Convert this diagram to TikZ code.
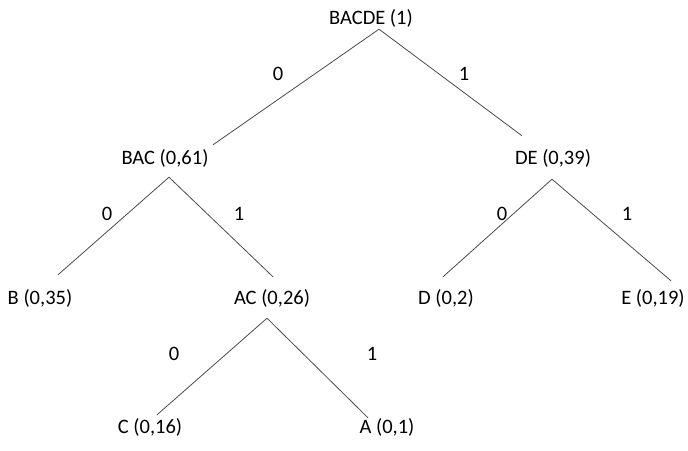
\documentclass[tikz,border=0pt]{standalone}
\usepackage{fontspec}
\setmainfont{Carlito}
\begin{document}
\begin{tikzpicture}[x = 1pt, y = -1pt,
    every node/.style = {font = \fontsize{20.5}{24}\selectfont, inner sep = 0pt, text height = 14pt, text depth = 4pt, anchor = base},
    edge/.style = {color = black!70, line width = 0.8pt}]
      \useasboundingbox[fill = white] (0, 0) rectangle (688, 450);
      % tree nodes
      \node (bacde) at (371, 24) {BACDE (1)};
      \node (bac) at (165, 164) {BAC (0,61)};
      \node (de) at (553, 164) {DE (0,39)};
      \node (b) at (40, 304) {B (0,35)};
      \node (ac) at (272, 304) {AC (0,26)};
      \node (d) at (446, 304) {D (0,2)};
      \node (e) at (653, 304) {E (0,19)};
      \node (c) at (150, 433) {C (0,16)};
      \node (a) at (387, 433) {A (0,1)};
      % bit labels
      \node (bit-bac) at (278, 80) {0};
      \node (bit-de) at (464, 80) {1};
      \node (bit-b) at (107, 220) {0};
      \node (bit-ac) at (239, 220) {1};
      \node (bit-d) at (502, 220) {0};
      \node (bit-e) at (627, 220) {1};
      \node (bit-c) at (174, 360) {0};
      \node (bit-a) at (372, 360) {1};
      % branches
      \draw[edge] ([xshift = 8pt, yshift = -1pt]bacde.south) -- ([xshift = 48pt, yshift = 5pt]bac.north);
      \draw[edge] ([xshift = 8pt, yshift = -1pt]bacde.south) -- ([xshift = -31pt, yshift = 14pt]de.north);
      \draw[edge] ([xshift = 4pt, yshift = -9pt]bac.south) -- ([xshift = 18pt, yshift = 15pt]b.north);
      \draw[edge] ([xshift = 4pt, yshift = -9pt]bac.south) -- ([xshift = 1pt, yshift = 13pt]ac.north);
      \draw[edge] ([xshift = -1pt, yshift = -11pt]de.south) -- ([xshift = -3pt, yshift = 13pt]d.north);
      \draw[edge] ([xshift = -1pt, yshift = -11pt]de.south) -- ([xshift = 18pt, yshift = 9pt]e.north);
      \draw[edge] ([xshift = -5pt, yshift = -10pt]ac.south) -- ([xshift = 7pt, yshift = 4pt]c.north);
      \draw[edge] ([xshift = -5pt, yshift = -10pt]ac.south) -- ([xshift = -19pt, yshift = 1pt]a.north);
\end{tikzpicture}
\end{document}
